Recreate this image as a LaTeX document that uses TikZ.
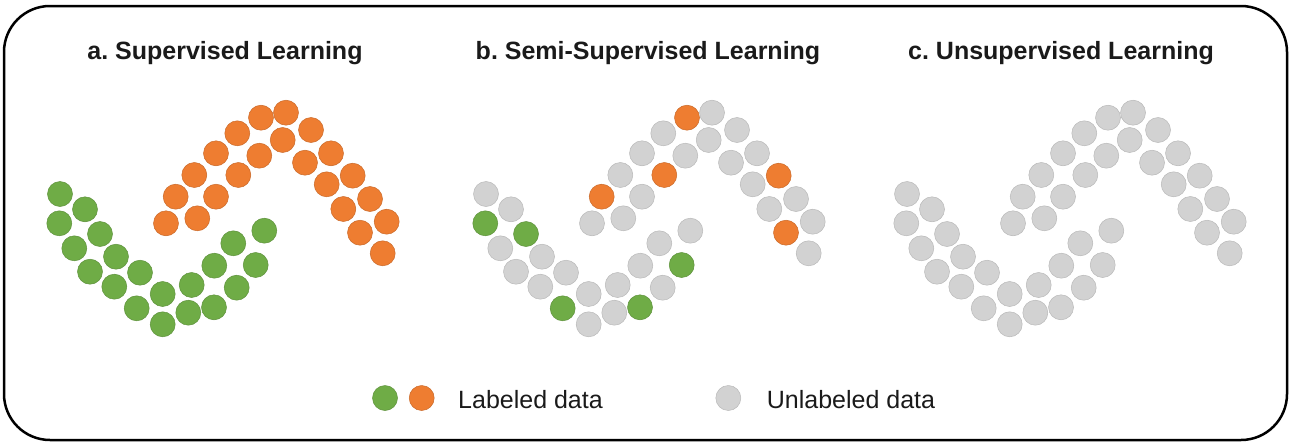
\documentclass[tikz,border=0pt]{standalone}
\usepackage{fontspec}
\setmainfont{Liberation Sans}
\usetikzlibrary{positioning}
\frenchspacing

\definecolor{labgreen}{HTML}{6FAC46}
\definecolor{laborange}{HTML}{EE7D31}
\definecolor{unlabgray}{HTML}{D2D2D2}
\definecolor{inkblack}{HTML}{1A1A1A}

% lower wave and upper wave, x/y/class in panel b (u = unlabeled, g = green, o = orange)
\newcommand{\lowwave}{60/194/u, 85/209.3/u, 59.3/223.3/g, 100/234/g, 74.3/248.3/u,
  116/256.7/u, 90/271.7/u, 140/272.7/u, 114.3/286.7/u, 162.7/294/u,
  136.7/308.3/g, 162.7/324.3/u, 188.3/312.7/u, 191.7/285/u, 214/307.3/g,
  214.3/265.7/u, 236.7/287.7/u, 233.3/243.3/u, 255.7/265/g, 264.3/230.7/u}
\newcommand{\highwave}{166/223.3/u, 175.7/196.7/o, 197.3/218.3/u, 194.3/175/u, 216/196.7/u,
  216/153.3/u, 238.3/175/o, 237.3/133.3/u, 259.3/155.7/u, 261/117.7/o,
  282.7/140/u, 286/112.7/u, 311/130/u, 305/162.7/u, 331/153.3/u,
  326.7/184.3/u, 352.7/175.7/o, 343.3/209/u, 370/199/u, 360/232.7/o,
  386.7/221.7/u, 382.7/253.3/u}

\begin{document}
\begin{tikzpicture}[x=1pt,y=-1pt]
\tikzstyle{every node}=[inner sep=0pt, text=inkblack]
\tikzstyle{dot}=[circle, minimum size=25pt, line width=0.5pt]
\tikzstyle{dotg}=[dot, fill=labgreen, draw=labgreen!85!black]
\tikzstyle{doto}=[dot, fill=laborange, draw=laborange!85!black]
\tikzstyle{dotu}=[dot, fill=unlabgray, draw=unlabgray!88!black]
\tikzstyle{title}=[anchor=base, font=\bfseries\fontsize{25}{30}\selectfont]
\tikzstyle{legend}=[anchor=base west, font=\fontsize{25}{30}\selectfont]

\useasboundingbox (0,0) rectangle (1290,442);
\draw[line width=2.5pt, rounded corners=46pt] (4,6) rectangle (1287,440);

% titles
\node[title] (ta) at (225,59) {a. Supervised Learning};
\node[title] (tb) at (648,59) {b. Semi-Supervised Learning};
\node[title] (tc) at (1061,59) {c. Unsupervised Learning};

% a. all labeled
\foreach [count=\i] \x/\y/\k in \lowwave
  \node[dotg] (a-lo-\i) at (\x,\y) {};
\foreach [count=\i] \x/\y/\k in \highwave
  \node[doto] (a-hi-\i) at (\x,\y) {};

% b. a few labeled
\foreach [count=\i] \x/\y/\k in \lowwave
  \node[dot\k] (b-lo-\i) at (\x+426,\y) {};
\foreach [count=\i] \x/\y/\k in \highwave
  \node[dot\k] (b-hi-\i) at (\x+426,\y) {};

% c. none labeled
\foreach [count=\i] \x/\y/\k in \lowwave
  \node[dotu] (c-lo-\i) at (\x+847,\y) {};
\foreach [count=\i] \x/\y/\k in \highwave
  \node[dotu] (c-hi-\i) at (\x+847,\y) {};

% legend
\node[dotg] (leg-g) at (385,398) {};
\node[doto] (leg-o) at (421.7,398) {};
\node[legend] (leg-lab) at (458,408) {Labeled data};
\node[dotu] (leg-u) at (728.3,398) {};
\node[legend] (leg-unl) at (766.7,408) {Unlabeled data};
\end{tikzpicture}
\end{document}
